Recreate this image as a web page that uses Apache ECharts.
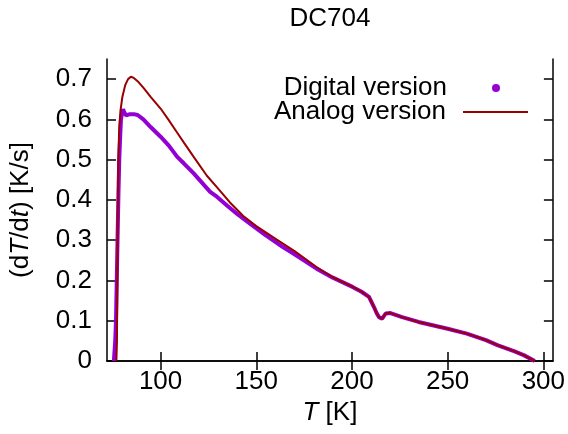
<!DOCTYPE html>
<html>
<head>
<meta charset="utf-8">
<script src="https://cdn.jsdelivr.net/npm/echarts@6/dist/echarts.min.js"></script>
<style>
html,body{margin:0;padding:0;background:#fff;}
#chart{width:568px;height:434px;}
</style>
</head>
<body>
<div id="chart"></div>
<script>
var titleText = 'DC704';
var xTicks = [100, 150, 200, 250, 300];
var yTicks = [0, 0.1, 0.2, 0.3, 0.4, 0.5, 0.6, 0.7];

var digitalT = [75.6, 76.3, 76.7, 77.1, 77.5, 78.0, 78.4, 78.9, 79.3, 80.0, 80.4, 81.0, 82.0, 84.0, 86.0, 88.0, 91.0, 94.8, 100, 104.3, 108.7, 112.1, 117.3, 125.9, 129.4, 135, 140, 146.7, 155, 163.9, 170, 181.3, 190, 200.3, 205, 208.9, 211.5, 213, 214.1, 215.8, 217.6, 220.1, 226.2, 234.8, 250, 260, 270, 276.3, 285, 290, 295.5];
var digitalRate = [0, 0.05, 0.1, 0.2, 0.3, 0.42, 0.5, 0.56, 0.6, 0.618, 0.625, 0.618, 0.61, 0.613, 0.613, 0.611, 0.6, 0.581, 0.557, 0.535, 0.507, 0.491, 0.466, 0.42, 0.408, 0.385, 0.365, 0.341, 0.312, 0.283, 0.265, 0.23, 0.207, 0.184, 0.172, 0.159, 0.134, 0.118, 0.109, 0.105, 0.118, 0.119, 0.109, 0.097, 0.08, 0.068, 0.052, 0.039, 0.024, 0.014, 0];

var analogT = [76.9, 77.2, 77.4, 77.6, 77.9, 78.4, 79.0, 80.0, 81.5, 83.0, 84.5, 86.0, 88.0, 91.3, 94.8, 100, 104, 108.7, 112.1, 117.3, 124.2, 129.4, 136, 143.2, 150, 160.5, 170, 181.3, 190, 200.3, 205, 208.9, 211.5, 213, 214.1, 215.8, 217.6, 220.1, 226.2, 234.8, 250, 260, 270, 276.3, 285, 290, 295.5];
var analogRate = [0, 0.05, 0.2, 0.35, 0.5, 0.58, 0.62, 0.655, 0.685, 0.7, 0.706, 0.703, 0.695, 0.677, 0.656, 0.627, 0.6, 0.567, 0.543, 0.507, 0.46, 0.432, 0.395, 0.36, 0.335, 0.302, 0.273, 0.234, 0.208, 0.184, 0.172, 0.159, 0.134, 0.118, 0.109, 0.105, 0.118, 0.119, 0.109, 0.097, 0.08, 0.068, 0.052, 0.039, 0.024, 0.014, 0];

function pairs(xs, ys) { return xs.map(function (x, i) { return [x, ys[i]]; }); }

var FONT = 'Liberation Sans';
var FS = 26;
var axisLineStyle = { color: '#000', width: 1.5 };

var chart = echarts.init(document.getElementById('chart'), null, { renderer: 'canvas' });
chart.setOption({
  animation: false,
  backgroundColor: '#fff',
  textStyle: { fontFamily: FONT, color: '#000' },
  title: {
    text: titleText,
    left: 330,
    top: 6,
    padding: 0,
    textAlign: 'center',
    textStyle: { fontFamily: FONT, fontSize: FS, fontWeight: 'normal', color: '#000' }
  },
  grid: { left: 106, right: 13, top: 59, bottom: 73, containLabel: false },
  legend: [
    {
      data: [{ name: 'Digital version', icon: 'circle' }],
      right: 68, top: 75, padding: 0,
      align: 'right',
      itemWidth: 8, itemHeight: 8,
      textStyle: { fontFamily: FONT, fontSize: FS, color: '#000', padding: [0, 40, 10, 0] }
    },
    {
      data: [{ name: 'Analog version', icon: 'rect' }],
      right: 40, top: 99, padding: 0,
      align: 'right',
      itemWidth: 65, itemHeight: 2,
      textStyle: { fontFamily: FONT, fontSize: FS, color: '#000', padding: [0, 12, 10, 0] }
    }
  ],
  xAxis: [
    {
      type: 'value', min: 72, max: 305, position: 'bottom',
      name: '{i|T} [K]', nameLocation: 'middle', nameGap: 32,
      nameTextStyle: { fontFamily: FONT, fontSize: FS, color: '#000', rich: { i: { fontFamily: FONT, fontSize: FS, fontStyle: 'italic', color: '#000' } } },
      axisLine: { show: true, lineStyle: axisLineStyle },
      axisTick: { show: true, inside: true, length: 9, customValues: xTicks, lineStyle: axisLineStyle },
      axisLabel: { show: true, customValues: xTicks, margin: 8, fontFamily: FONT, fontSize: FS, color: '#000' },
      splitLine: { show: false }
    },
    {
      type: 'value', min: 72, max: 305, position: 'top',
      axisLine: { show: true, lineStyle: axisLineStyle },
      axisTick: { show: true, inside: true, length: 9, customValues: xTicks, lineStyle: axisLineStyle },
      axisLabel: { show: false },
      splitLine: { show: false }
    }
  ],
  yAxis: [
    {
      type: 'value', min: 0, max: 0.75, position: 'left',
      name: '(d{i|T}/d{i|t}) [K/s]', nameLocation: 'middle', nameGap: 73, nameRotate: 90,
      nameTextStyle: { fontFamily: FONT, fontSize: FS, color: '#000', rich: { i: { fontFamily: FONT, fontSize: FS, fontStyle: 'italic', color: '#000' } } },
      axisLine: { show: true, lineStyle: axisLineStyle },
      axisTick: { show: true, inside: true, length: 9, customValues: yTicks, lineStyle: axisLineStyle },
      axisLabel: { show: true, customValues: yTicks, margin: 15, fontFamily: FONT, fontSize: FS, color: '#000' },
      splitLine: { show: false }
    },
    {
      type: 'value', min: 0, max: 0.75, position: 'right',
      axisLine: { show: true, lineStyle: axisLineStyle },
      axisTick: { show: true, inside: true, length: 9, customValues: yTicks, lineStyle: axisLineStyle },
      axisLabel: { show: false },
      splitLine: { show: false }
    }
  ],
  series: [
    {
      name: 'Digital version', type: 'line', xAxisIndex: 0, yAxisIndex: 0,
      data: pairs(digitalT, digitalRate),
      symbol: 'none', showSymbol: false,
      itemStyle: { color: '#9400D3' },
      lineStyle: { color: '#9400D3', width: 4 },
      z: 2
    },
    {
      name: 'Analog version', type: 'line', xAxisIndex: 0, yAxisIndex: 0,
      data: pairs(analogT, analogRate),
      symbol: 'none', showSymbol: false,
      itemStyle: { color: '#990000' },
      lineStyle: { color: '#990000', width: 2 },
      z: 3
    }
  ]
});
</script>
</body>
</html>
